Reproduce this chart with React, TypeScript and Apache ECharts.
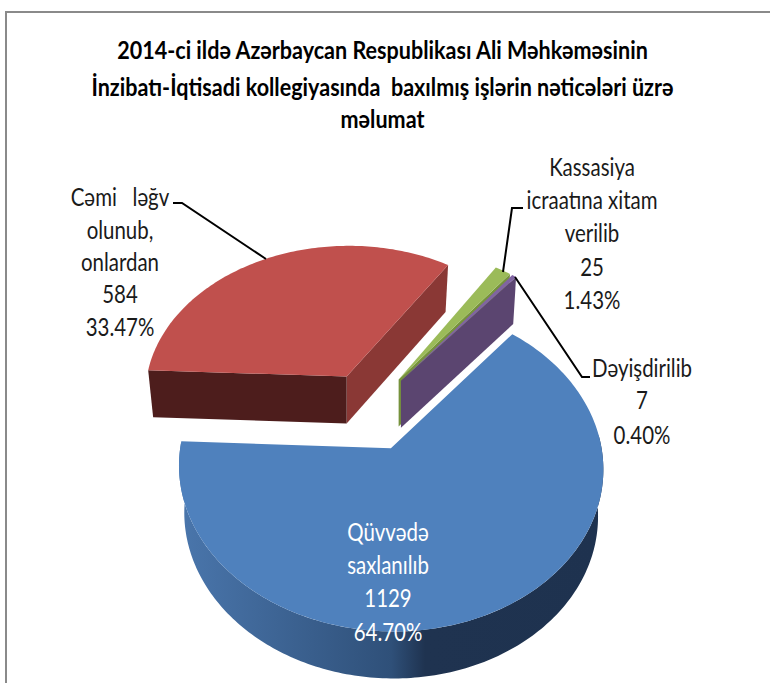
import React, { useEffect, useRef } from "react";
import * as echarts from "echarts";

const titleLines = [
  "2014-ci ildə Azərbaycan Respublikası Ali Məhkəməsinin",
  "İnzibatı-İqtisadi kollegiyasında  baxılmış işlərin nəticələri üzrə",
  "məlumat",
];
const categories = ["Qüvvədə saxlanılıb", "Cəmi ləğv olunub, onlardan", "Kassasiya icraatına xitam verilib", "Dəyişdirilib"];
const values = [1129, 584, 25, 7];
const percents = ["64.70%", "33.47%", "1.43%", "0.40%"];
const labelNameLines = [
  ["Qüvvədə", "saxlanılıb"],
  ["Cəmi   ləğv", "olunub,", "onlardan"],
  ["Kassasiya", "icraatına xitam", "verilib"],
  ["Dəyişdirilib"],
];
const topColors = ["#4f81bd", "#c0504d", "#9bbb59", "#8064a2"];
const drawOrder = [1, 2, 3, 0];

const FONT = 'Lato, "Open Sans", sans-serif';
const START = 39.6;
const EXPLODE_X = 0.25, EXPLODE_Y = 0.26;
const OX = 369.5, OY = 411, SX = 205, SY = 153, PERSP = 0.114, DEPTH = 47, BOTTOM_SCALE = 0.975;

const total = values.reduce((a, b) => a + b, 0);
const rad = (d: number) => (d * Math.PI) / 180;

function sliceAngles(i: number) {
  let a = START;
  for (let k = 0; k < i; k++) a += (values[k] / total) * 360;
  return [a, a + (values[i] / total) * 360];
}

function project(X: number, Y: number): number[] {
  const w = 1 + PERSP * Y;
  return [OX + (SX * X) / w, OY - (SY * Y) / w];
}

function renderSlice(params: any, api: any) {
  const i = api.value(0) as number;
  const [a0, a1] = sliceAngles(i);
  const mid = rad((a0 + a1) / 2);
  const dx = EXPLODE_X * Math.sin(mid), dy = EXPLODE_Y * Math.cos(mid);
  const apex = project(dx, dy);
  const rim = (deg: number) => project(dx + Math.sin(rad(deg)), dy + Math.cos(rad(deg)));
  const under = (p: number[]) => [apex[0] + (p[0] - apex[0]) * BOTTOM_SCALE, p[1] + DEPTH];
  const arc = (from: number, to: number) => {
    const n = Math.max(2, Math.ceil(Math.abs(to - from)));
    const pts: number[][] = [];
    for (let k = 0; k <= n; k++) pts.push(rim(from + ((to - from) * k) / n));
    return pts;
  };
  const children: any[] = [];
  const face = (points: number[][], fill: any) =>
    children.push({ type: "polygon", shape: { points }, style: { fill, stroke: null } });
  const cut = (deg: number, fill: string) => {
    const p = rim(deg);
    face([apex, p, under(p), under(apex)], fill);
  };
  if (i === 0) {
    const side = arc(85, a1);
    face(
      [...side, ...side.slice().reverse().map(under)],
      new echarts.graphic.LinearGradient(0, 0, 1, 0, [
        { offset: 0, color: "#4a76ac" },
        { offset: 0.5, color: "#2f5079" },
        { offset: 0.58, color: "#1f3350" },
        { offset: 1, color: "#1e324f" },
      ])
    );
  }
  if (i === 1) {
    cut(a1, "#8a3835");
    cut(a0, "#4d1d1c");
  }
  if (i === 2) cut(a1, "#76923c");
  if (i === 3) cut(a1, "#5b4570");
  face([apex, ...arc(a0, a1)], topColors[i]);
  return { type: "group", children };
}

function textBlock(lines: string[], cx: number, ys: number[], fill: string) {
  return lines.map((t, k) => ({
    type: "text",
    z: 5,
    x: cx,
    y: ys[k],
    scaleX: 0.93,
    scaleY: 1.12,
    style: { text: t, fill, font: `22px ${FONT}`, textAlign: "center", textVerticalAlign: "middle" },
  }));
}

function blockLines(i: number) {
  return [...labelNameLines[i], String(values[i]), percents[i]];
}

function leader(points: number[][]) {
  return { type: "polyline", z: 5, shape: { points }, style: { stroke: "#000", lineWidth: 2, fill: null } };
}

export default function App() {
  const ref = useRef<HTMLDivElement>(null);
  useEffect(() => {
    const chart = echarts.init(ref.current!, undefined, { renderer: "svg" });
    chart.setOption({
      animation: false,
      backgroundColor: "#fff",
      graphic: {
        elements: [
          {
            type: "polyline",
            z: 0,
            shape: { points: [[6, 683], [6, 12], [770, 12]] },
            style: { stroke: "#8a8a8a", lineWidth: 2, fill: null },
          },
          ...titleLines.map((t, k) => ({
            type: "text",
            z: 5,
            x: 382.5,
            y: [49, 86, 118][k],
            scaleX: 0.98,
            scaleY: 1.14,
            style: { text: t, fill: "#000", font: `bold 22px ${FONT}`, textAlign: "center", textVerticalAlign: "middle" },
          })),
          ...textBlock(blockLines(1), 120, [197, 230, 262, 294, 327], "#1a1a1a"),
          ...textBlock(blockLines(2), 592, [167, 200, 233, 267, 300], "#1a1a1a"),
          ...textBlock(blockLines(3), 642, [368, 400, 435], "#1a1a1a"),
          ...textBlock(blockLines(0), 388, [532, 565, 598, 632], "#ffffff"),
          leader([[173, 203], [182, 203], [266, 259]]),
          leader([[523, 208], [512, 208], [503, 272]]),
          leader([[515, 277], [582, 377], [590, 377]]),
        ],
      },
      series: [
        {
          type: "custom",
          coordinateSystem: "none",
          silent: true,
          renderItem: renderSlice,
          data: drawOrder.map((i) => ({ name: categories[i], value: [i, values[i]] })),
        },
      ],
    });
    return () => chart.dispose();
  }, []);
  return <div ref={ref} style={{ position: "fixed", left: 0, top: 0, width: 770, height: 683 }} />;
}
